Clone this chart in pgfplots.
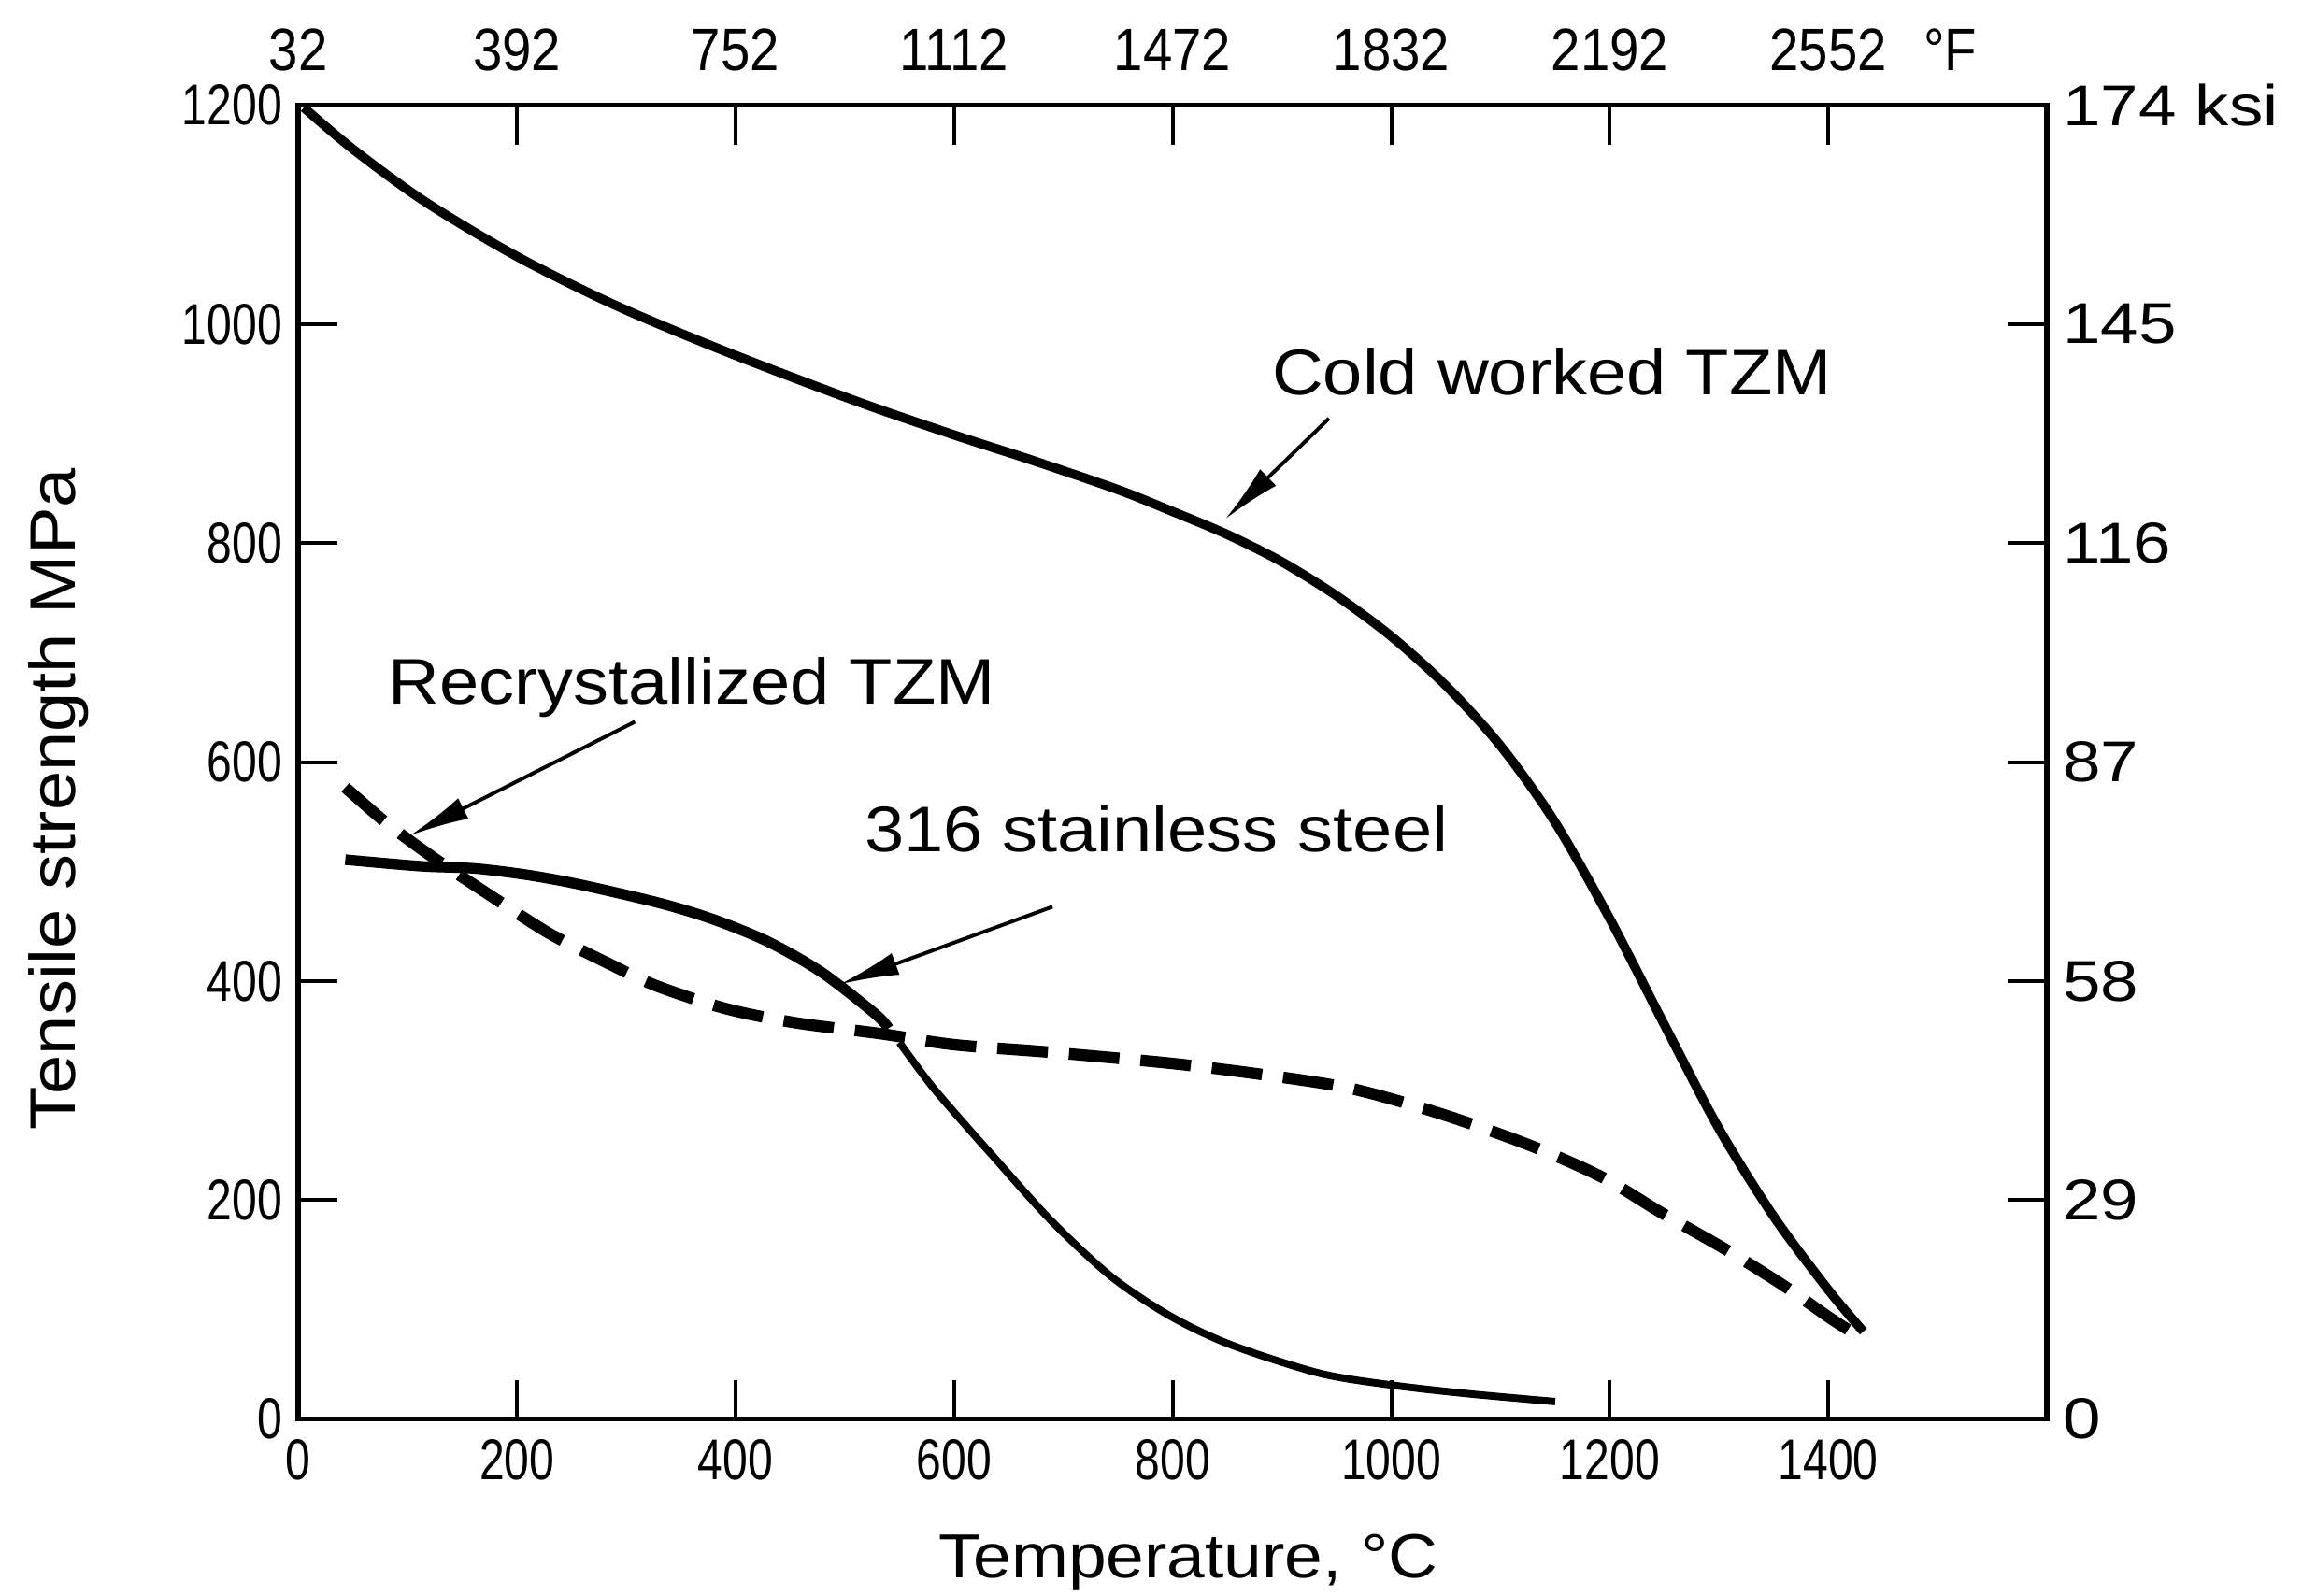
\documentclass[border=0pt]{standalone}
\usepackage{pgfplots}
\pgfplotsset{compat=1.18}
\usepackage{fontspec}
\setmainfont{Liberation Sans}
\newfontfamily\condfont[FakeStretch=0.78]{Liberation Sans}
\newfontfamily\topfont[FakeStretch=0.88]{Liberation Sans}
\newfontfamily\widefont[FakeStretch=1.18]{Liberation Sans}
\newfontfamily\labfont[FakeStretch=1.1]{Liberation Sans}
\usetikzlibrary{arrows.meta}

\begin{document}
\begin{tikzpicture}
\useasboundingbox (-64.8pt,-38.4pt) rectangle (435.2pt,308.3pt);
\pgfplotsset{
  common/.style={
    at={(0pt,0pt)}, anchor=south west,
    scale only axis, width=379.8pt, height=285.4pt,
    xmin=0, xmax=1600, ymin=0, ymax=1200,
    xtick={0,200,...,1400}, ytick={0,200,...,1200},
    tick align=inside, major tick length=8.5pt,
    tick style={line width=0.8pt, black},
    axis line style={line width=1.1pt},
    minor tick num=0,
  }
}
\begin{axis}[common,
  xtick pos=left, ytick pos=left,
  xticklabels={0,200,400,600,800,1000,1200,1400},
  yticklabels={0,200,400,600,800,1000,1200},
  xticklabel style={font=\condfont\fontsize{12.5}{15}\selectfont, yshift=-1pt},
  yticklabel style={font=\condfont\fontsize{12.5}{15}\selectfont},
  xlabel={Temperature, °C}, ylabel={Tensile strength MPa},
  every axis x label/.style={at={(axis description cs:0.509,-0.109)}, anchor=center, font=\labfont\fontsize{13.5}{16}\selectfont},
  every axis y label/.style={at={(axis description cs:-0.137,0.472)}, anchor=center, rotate=90, font=\labfont\fontsize{14}{16}\selectfont},
]
% Cold worked TZM
\addplot[black, line width=2pt, smooth] coordinates {
(5,1198) (50,1160) (116,1112) (200,1062) (291,1017) (394,974) (510,930) (600,899)
(671,876) (750,849) (800,829) (850,808) (900,783) (950,752) (1000,715) (1050,670)
(1100,615) (1150,545) (1200,457) (1250,360) (1300,265) (1350,185) (1400,118) (1432,80)};
% Recrystallized TZM
\addplot[black, line width=2.5pt, smooth, dash pattern=on 11pt off 4.6pt] coordinates {
(43,577) (80,545) (122,514) (173,480) (229,444) (280,418) (327,396) (391,375) (455,362)
(533,352) (600,342) (689,335) (798,325) (880,315) (963,302) (1045,279) (1127,250)
(1193,221) (1248,188) (1306,155) (1359,122) (1402,92) (1432,73)};
% 316 stainless steel
\addplot[black, line width=2.3pt, smooth] coordinates {
(43,511) (112,505) (161,503) (210,497) (259,488) (332,471) (381,456) (430,436) (479,408)
(528,370) (540,357)};
\addplot[black, line width=1.6pt, smooth] coordinates {
(550,344) (579,305) (610,269) (634,242) (689,181) (744,130) (798,94) (853,68)
(934,42) (1001,31) (1072,23) (1150,16)};
% annotations
\draw[line width=0.8pt, -{Latex[length=13pt,width=5pt]}] (axis cs:943,914) -- (axis cs:848,822);
\draw[line width=0.8pt, -{Latex[length=13pt,width=5pt]}] (axis cs:308,637) -- (axis cs:102,533);
\draw[line width=0.8pt, -{Latex[length=13pt,width=5pt]}] (axis cs:690,468) -- (axis cs:495,397);
\node[anchor=base, font=\labfont\fontsize{14}{16}\selectfont] at (axis cs:1147,936) {Cold worked TZM};
\node[anchor=base, font=\labfont\fontsize{14}{16}\selectfont] at (axis cs:360,653) {Recrystallized TZM};
\node[anchor=base, font=\labfont\fontsize{14}{16}\selectfont] at (axis cs:785,518) {316 stainless steel};
\end{axis}
\begin{axis}[common,
  xtick pos=right, ytick pos=right, xticklabel pos=right, yticklabel pos=right,
  xticklabels={32,392,752,1112,1472,1832,2192,{2552\rlap{\hspace{8pt}°F}}},
  yticklabels={0,29,58,87,116,145,174 ksi},
  xticklabel style={font=\topfont\fontsize{13}{15}\selectfont, yshift=4pt},
  yticklabel style={font=\widefont\fontsize{12.5}{15}\selectfont},
]
\end{axis}
\end{tikzpicture}
\end{document}
